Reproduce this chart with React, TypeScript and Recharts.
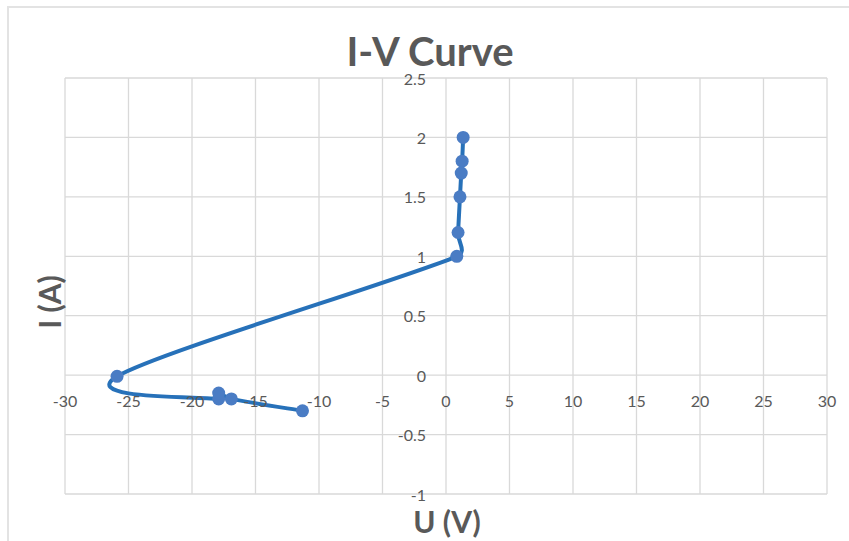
import React from "react";
import { ScatterChart, Scatter, XAxis, YAxis, CartesianGrid } from "recharts";

// measured I-V points, in the order the smoothed line runs through them
const voltage = [1.35, 1.27, 1.2, 1.1, 0.95, 0.85, -25.9, -17.9, -17.9, -16.9, -11.3];
const current = [2.0, 1.8, 1.7, 1.5, 1.2, 1.0, -0.01, -0.2, -0.15, -0.2, -0.3];

const xTicks = [-30, -25, -20, -15, -10, -5, 0, 5, 10, 15, 20, 25, 30];
const yTicks = [-1, -0.5, 0, 0.5, 1, 1.5, 2, 2.5];

const W = 849;
const H = 541;
const AX_H = 30;
const AX_W = 40;
// plot area: x 65..827, y 78..494
const M = { top: 78, right: 22, bottom: 47 - AX_H, left: 65 - AX_W };
const plotL = M.left + AX_W;
const plotW = W - plotL - M.right;
const plotH = H - M.top - M.bottom - AX_H;
const zeroX = plotL + plotW * (0 - xTicks[0]) / (xTicks[xTicks.length - 1] - xTicks[0]);
const zeroY = M.top + plotH * (yTicks[yTicks.length - 1] - 0) / (yTicks[yTicks.length - 1] - yTicks[0]);

const FONT = "Lato, 'Open Sans', sans-serif";
const TEXT = "#595959";

const points = voltage.map((u, i) => ({ u, i: current[i] }));

// Excel-like smoothing: Catmull-Rom tangents, clamped to half the segment length
const smoothCurve = (context: any) => {
  let pts: number[][] = [];
  const ctrl = (a: number[], b: number[], seg: number) => {
    let dx = (b[0] - a[0]) / 6;
    let dy = (b[1] - a[1]) / 6;
    const len = Math.hypot(dx, dy);
    const max = seg * 0.5;
    if (len > max && len > 0) {
      dx = (dx * max) / len;
      dy = (dy * max) / len;
    }
    return [dx, dy];
  };
  return {
    areaStart() {},
    areaEnd() {},
    lineStart() {
      pts = [];
    },
    point(x: number, y: number) {
      pts.push([+x, +y]);
    },
    lineEnd() {
      if (!pts.length) return;
      context.moveTo(pts[0][0], pts[0][1]);
      for (let k = 0; k < pts.length - 1; k++) {
        const p0 = pts[k - 1] || pts[k];
        const p1 = pts[k];
        const p2 = pts[k + 1];
        const p3 = pts[k + 2] || p2;
        const seg = Math.hypot(p2[0] - p1[0], p2[1] - p1[1]);
        const t1 = ctrl(p0, p2, seg);
        const t2 = ctrl(p1, p3, seg);
        context.bezierCurveTo(p1[0] + t1[0], p1[1] + t1[1], p2[0] - t2[0], p2[1] - t2[1], p2[0], p2[1]);
      }
    },
  };
};

const renderXTick = (props: any) => (
  <text
    key={props.index}
    x={props.x}
    y={zeroY + 25}
    textAnchor="middle"
    dominantBaseline="central"
    fill={TEXT}
    fontSize={16}
    fontFamily={FONT}
  >
    {props.payload.value}
  </text>
);

const renderYTick = (props: any) => (
  <text
    key={props.index}
    x={zeroX - 20}
    y={props.y}
    textAnchor="end"
    dominantBaseline="central"
    fill={TEXT}
    fontSize={16}
    fontFamily={FONT}
  >
    {props.payload.value}
  </text>
);

const renderDot = (props: any) => <circle cx={props.cx} cy={props.cy} r={6.5} fill="#4A7CC4" />;

export default function App() {
  return (
    <div style={{ position: "fixed", left: 0, top: 0, width: W, height: H, background: "#fff", overflow: "hidden" }}>
      <div
        style={{
          position: "absolute",
          left: 7,
          top: 6,
          width: W,
          height: H,
          borderLeft: "2px solid #e3e3e3",
          borderTop: "2px solid #e3e3e3",
        }}
      />
      <div
        style={{
          position: "absolute",
          left: 0,
          width: 860,
          top: 26,
          textAlign: "center",
          fontFamily: FONT,
          fontWeight: 700,
          fontSize: 40,
          color: TEXT,
          lineHeight: "50px",
        }}
      >
        I-V Curve
      </div>
      <ScatterChart width={W} height={H} margin={M} style={{ position: "absolute", left: 0, top: 0 }}>
        <CartesianGrid stroke="#d9d9d9" strokeWidth={1.3} />
        <XAxis
          type="number"
          dataKey="u"
          domain={[-30, 30]}
          ticks={xTicks}
          height={AX_H}
          axisLine={false}
          tickLine={false}
          tick={renderXTick}
          interval={0}
        />
        <YAxis
          type="number"
          dataKey="i"
          domain={[-1, 2.5]}
          ticks={yTicks}
          width={AX_W}
          axisLine={false}
          tickLine={false}
          tick={renderYTick}
          interval={0}
        />
        <Scatter
          data={points}
          line={{ stroke: "#2771B9", strokeWidth: 4 }}
          lineType="joint"
          lineJointType={smoothCurve as any}
          shape={renderDot}
          isAnimationActive={false}
        />
      </ScatterChart>
      <div
        style={{
          position: "absolute",
          left: 347,
          width: 200,
          top: 503,
          textAlign: "center",
          fontFamily: FONT,
          fontWeight: 700,
          fontSize: 30,
          color: TEXT,
          lineHeight: "36px",
        }}
      >
        U (V)
      </div>
      <div
        style={{
          position: "absolute",
          left: 49 - 100,
          width: 200,
          top: 302 - 18,
          textAlign: "center",
          fontFamily: FONT,
          fontWeight: 700,
          fontSize: 30,
          color: TEXT,
          lineHeight: "36px",
          transform: "rotate(-90deg)",
        }}
      >
        I (A)
      </div>
    </div>
  );
}
